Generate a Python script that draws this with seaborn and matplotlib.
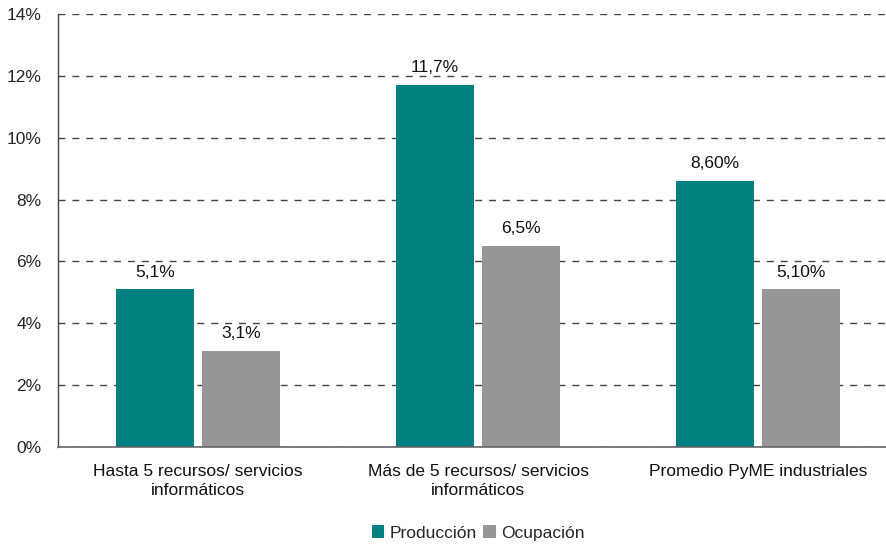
import matplotlib
matplotlib.use("Agg")
import matplotlib.pyplot as plt
import seaborn as sns
import pandas as pd
from matplotlib.ticker import FixedLocator

categories = ["Hasta 5 recursos/ servicios\ninformáticos",
              "Más de 5 recursos/ servicios\ninformáticos",
              "Promedio PyME industriales"]
series = ["Producción", "Ocupación"]
produccion = [5.1, 11.7, 8.6]
ocupacion = [3.1, 6.5, 5.1]
labels_produccion = ["5,1%", "11,7%", "8,60%"]
labels_ocupacion = ["3,1%", "6,5%", "5,10%"]
yticks = [0, 2, 4, 6, 8, 10, 12, 14]
ytick_labels = ["0%", "2%", "4%", "6%", "8%", "10%", "12%", "14%"]
colors = ["#008080", "#969696"]

df = pd.DataFrame({
    "cat": categories * 2,
    "serie": [series[0]] * 3 + [series[1]] * 3,
    "val": produccion + ocupacion,
})

sns.set_style("white")
plt.rcParams["font.family"] = ["Liberation Sans", "DejaVu Sans"]

FS = 12.5
fig = plt.figure(figsize=(8.87, 5.44), dpi=100)
ax = fig.add_axes([58 / 887, 1 - 447 / 544, 840 / 887, 433 / 544])

sns.barplot(data=df, x="cat", y="val", hue="serie", palette=colors,
            width=0.614, gap=0.093, ax=ax, saturation=1, legend=True,
            linewidth=0)

for cont, labs in zip(ax.containers, [labels_produccion, labels_ocupacion]):
    ax.bar_label(cont, labels=labs, padding=7, fontsize=FS, color="#111111")

ax.set_ylim(0, 14)
ax.set_xlim(-0.5, 2.5)
ax.set_yticks(yticks)
ax.set_yticklabels(ytick_labels, fontsize=FS)
ax.yaxis.grid(True, linestyle=(0, (5, 5)), color="#444444", linewidth=1)
ax.set_axisbelow(True)
ax.tick_params(axis="y", length=2, width=1, color="#444444", pad=10)
ax.tick_params(axis="x", which="major", length=0, labelsize=FS, pad=12)
ax.xaxis.set_minor_locator(FixedLocator([-0.5, 0.5, 1.5, 2.5]))
ax.tick_params(axis="x", which="minor", length=5, width=1, color="#444444")
ax.set_xlabel("")
ax.set_ylabel("")
for s in ["top", "right"]:
    ax.spines[s].set_visible(False)
ax.spines["left"].set_color("#444444")
ax.spines["bottom"].set_color("#666666")
ax.spines["left"].set_linewidth(1)
ax.spines["bottom"].set_linewidth(1.2)
for lab in ax.get_xticklabels():
    lab.set_color("#111111")
    lab.set_linespacing(1.4)

leg = ax.legend(loc="center", bbox_to_anchor=(0.5, -86 / 433), ncol=2,
                frameon=False, fontsize=FS, handlelength=0.7, handleheight=0.7,
                handletextpad=0.3, columnspacing=0.4)

fig.savefig("out.png", dpi=100)
